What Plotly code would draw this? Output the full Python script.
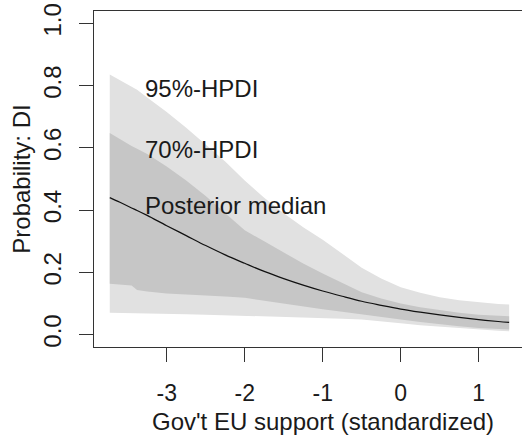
import plotly.graph_objects as go

# Gov't EU support (standardized) grid
x_vals = [-3.73, -3.6, -3.45, -3.38, -3.25, -3.0, -2.75, -2.5, -2.25, -2.0, -1.75, -1.5,
          -1.25, -1.0, -0.75, -0.5, -0.25, 0.0, 0.25, 0.5, 0.75, 1.0, 1.25, 1.39]

median = [0.44, 0.425, 0.407, 0.399, 0.383, 0.35, 0.318, 0.286, 0.256, 0.229, 0.203, 0.18,
          0.159, 0.14, 0.123, 0.107, 0.094, 0.082, 0.072, 0.063, 0.055, 0.048, 0.042, 0.039]

upper95 = [0.836, 0.817, 0.797, 0.787, 0.762, 0.715, 0.665, 0.612, 0.556, 0.495, 0.44, 0.39,
           0.345, 0.305, 0.26, 0.215, 0.18, 0.152, 0.134, 0.12, 0.11, 0.103, 0.098, 0.097]

lower95 = [0.070, 0.069, 0.068, 0.068, 0.067, 0.066, 0.065, 0.064, 0.063, 0.062, 0.060, 0.058,
           0.056, 0.053, 0.051, 0.048, 0.043, 0.036, 0.030, 0.025, 0.020, 0.016, 0.012, 0.011]

upper70 = [0.648, 0.628, 0.606, 0.597, 0.58, 0.54, 0.495, 0.445, 0.39, 0.335, 0.30, 0.265,
           0.228, 0.196, 0.165, 0.136, 0.116, 0.100, 0.088, 0.078, 0.070, 0.064, 0.060, 0.059]

lower70 = [0.163, 0.161, 0.158, 0.143, 0.138, 0.132, 0.128, 0.125, 0.122, 0.118, 0.110, 0.100,
           0.090, 0.081, 0.073, 0.065, 0.057, 0.048, 0.040, 0.033, 0.027, 0.021, 0.017, 0.016]

x_ticks = [-3, -2, -1, 0, 1]
y_ticks = [0.0, 0.2, 0.4, 0.6, 0.8, 1.0]
y_tick_text = ["0.0", "0.2", "0.4", "0.6", "0.8", "1.0"]

labels = ["95%-HPDI", "70%-HPDI", "Posterior median"]
label_y = [0.79, 0.595, 0.414]
label_x = -3.31

x_title = "Gov't EU support (standardized)"
y_title = "Probability: DI"

FONT = "Liberation Sans, Arial, sans-serif"
TXT = "#1a1a1a"
AX = "#333333"
FS = 24
FS_X = 23

fig = go.Figure()
fig.add_trace(go.Scatter(
    x=x_vals + x_vals[::-1], y=upper95 + lower95[::-1],
    fill="toself", fillcolor="#e1e1e1", line=dict(width=0), mode="lines",
    hoverinfo="skip", showlegend=False))
fig.add_trace(go.Scatter(
    x=x_vals + x_vals[::-1], y=upper70 + lower70[::-1],
    fill="toself", fillcolor="#c6c6c6", line=dict(width=0), mode="lines",
    hoverinfo="skip", showlegend=False))
fig.add_trace(go.Scatter(
    x=x_vals, y=median, mode="lines", line=dict(color="#111111", width=1.2, shape="spline"),
    showlegend=False))

for t, yy in zip(labels, label_y):
    fig.add_annotation(x=label_x, y=yy, text=t, showarrow=False, xanchor="left",
                       yanchor="middle", font=dict(family=FONT, size=FS, color=TXT))

# x-axis title placed as paper annotation centred under the axis ticks
fig.add_annotation(x=-1.0, xref="x", y=-0.222, yref="paper", text=x_title,
                   showarrow=False, xanchor="center", yanchor="middle",
                   font=dict(family=FONT, size=FS, color=TXT))

fig.update_layout(
    width=522, height=437,
    margin=dict(l=94, r=0, t=11, b=90),
    paper_bgcolor="white", plot_bgcolor="white",
    font=dict(family=FONT, size=FS, color=TXT),
    xaxis=dict(range=[-3.932, 1.555], tickvals=x_ticks, ticktext=[str(v) for v in x_ticks],
               tickfont=dict(family=FONT, size=FS_X, color=TXT),
               ticks="outside", ticklen=14, tickwidth=1, tickcolor=AX,
               showline=True, linecolor=AX, linewidth=1, mirror=True,
               showgrid=False, zeroline=False, ticklabelstandoff=11),
    yaxis=dict(range=[-0.04, 1.04], tickvals=y_ticks, ticktext=y_tick_text,
               tickangle=-90,
               ticks="outside", ticklen=14, tickwidth=1, tickcolor=AX,
               showline=True, linecolor=AX, linewidth=1, mirror=False,
               showgrid=False, zeroline=False, ticklabelstandoff=8,
               title=dict(text=y_title, standoff=2,
                          font=dict(family=FONT, size=FS, color=TXT))),
)

fig.write_html("out.html")
